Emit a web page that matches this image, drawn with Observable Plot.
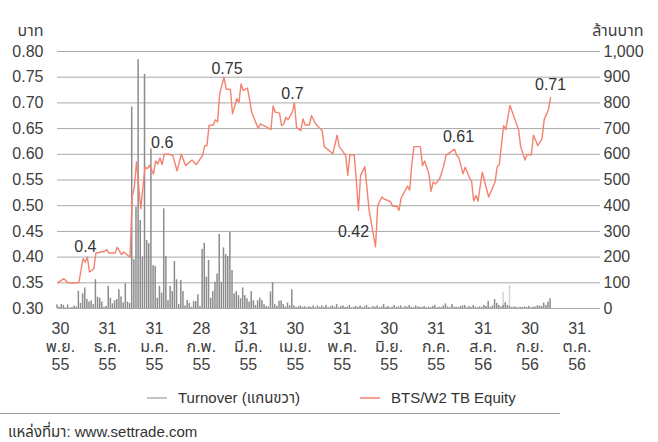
<!DOCTYPE html>
<html>
<head>
<meta charset="utf-8">
<script src="https://cdn.jsdelivr.net/npm/d3@7"></script>
<script src="https://cdn.jsdelivr.net/npm/@observablehq/plot@0.6"></script>
<style>
  body { margin: 0; background: #fff; }
  #chart { position: relative; width: 658px; height: 442px; font-family: "Liberation Sans", "Noto Sans Thai", "Noto Sans", sans-serif; color: #404040; }
  #chart svg { position: absolute; left: 0; top: 0; }
  .key { position: absolute; font-size: 15px; line-height: 18px; white-space: nowrap; color: #333; }
  .swatch { position: absolute; height: 2px; width: 20px; }
</style>
</head>
<body>
<div id="chart">
  <span class="swatch" style="left:147px; top:397px; background:#c4c4c4"></span>
  <span class="key" style="left:178px; top:389px">Turnover (แกนขวา)</span>
  <span class="swatch" style="left:360px; top:397px; background:#f6a090"></span>
  <span class="key" style="left:391px; top:389px">BTS/W2 TB Equity</span>
  <span style="position:absolute; left:0; top:413px; width:560px; height:1px; background:#9e9e9e"></span>
  <span class="key" style="left:8px; top:423px">แหล่งที่มา: www.settrade.com</span>
</div>
<script>
// Trading-day index of each price reading (day 0 = 30 Nov 2012)
const priceDays = [
  0, 3, 5, 10, 11, 12, 13, 14, 15, 17, 18, 22, 23, 24, 27, 28, 30, 31, 33, 34,
  35, 36, 37, 39, 41, 42, 43, 45, 46, 47, 48, 49, 50, 52, 54, 56, 58, 60, 63, 65,
  68, 69, 70, 71, 73, 74, 75, 76, 78, 79, 81, 82, 84, 85, 86, 87, 89, 91, 94, 95,
  98, 100, 101, 102, 104, 105, 106, 107, 108, 110, 111, 112, 114, 115, 116, 118, 119, 121, 123, 124,
  125, 129, 131, 132, 135, 136, 137, 139, 140, 141, 142, 144, 146, 149, 150, 152, 153, 156, 157, 159,
  160, 161, 164, 165, 166, 167, 170, 171, 172, 174, 175, 176, 177, 179, 181, 182, 186, 187, 188, 190,
  191, 193, 194, 195, 196, 197, 199, 202, 205, 206, 207, 209, 210, 212, 216, 217, 219, 220, 222, 223,
  225, 227, 228, 230, 231
];
// BTS/W2 price, baht
const priceValues = [
  0.35, 0.358, 0.35, 0.35, 0.374, 0.397, 0.39, 0.4, 0.371, 0.377, 0.408, 0.411, 0.415, 0.408, 0.408, 0.419, 0.405, 0.41, 0.403, 0.4,
  0.517, 0.536, 0.585, 0.494, 0.575, 0.572, 0.578, 0.562, 0.587, 0.581, 0.593, 0.58, 0.6, 0.6, 0.598, 0.568, 0.6, 0.578, 0.589, 0.58,
  0.598, 0.617, 0.617, 0.656, 0.657, 0.667, 0.663, 0.718, 0.75, 0.727, 0.726, 0.679, 0.708, 0.701, 0.737, 0.724, 0.729, 0.682, 0.65, 0.659,
  0.653, 0.648, 0.694, 0.682, 0.68, 0.656, 0.659, 0.672, 0.667, 0.682, 0.7, 0.652, 0.646, 0.669, 0.657, 0.657, 0.675, 0.659, 0.65, 0.646,
  0.615, 0.601, 0.637, 0.615, 0.598, 0.559, 0.599, 0.599, 0.549, 0.491, 0.559, 0.576, 0.491, 0.42, 0.5, 0.517, 0.513, 0.508, 0.499, 0.499,
  0.491, 0.515, 0.538, 0.53, 0.581, 0.615, 0.615, 0.578, 0.587, 0.562, 0.528, 0.546, 0.542, 0.552, 0.578, 0.598, 0.61, 0.598, 0.594, 0.562,
  0.575, 0.555, 0.548, 0.509, 0.52, 0.509, 0.565, 0.517, 0.546, 0.576, 0.58, 0.656, 0.648, 0.695, 0.648, 0.615, 0.589, 0.599, 0.599, 0.637,
  0.617, 0.63, 0.667, 0.687, 0.71
];
// Daily turnover, million baht (one value per trading day, from day 0)
const turnover = [
  14, 5, 15, 12, 3, 14, 2, 4, 10, 6,
  67, 20, 57, 80, 35, 25, 30, 15, 112, 44,
  40, 25, 5, 8, 86, 40, 18, 30, 35, 73,
  45, 22, 96, 25, 20, 784, 190, 394, 968, 342,
  200, 911, 265, 252, 621, 167, 163, 40, 86, 60,
  388, 202, 30, 86, 66, 183, 112, 15, 109, 66,
  10, 31, 20, 5, 27, 27, 53, 8, 230, 254,
  122, 187, 40, 66, 102, 134, 288, 102, 236, 210,
  202, 297, 148, 57, 66, 50, 38, 80, 50, 38,
  25, 66, 30, 12, 30, 40, 31, 15, 8, 6,
  64, 100, 15, 8, 28, 30, 15, 6, 21, 10,
  73, 10, 4, 6, 10, 5, 7, 3, 7, 4,
  10, 3, 10, 5, 10, 4, 12, 3, 6, 10,
  5, 15, 3, 8, 10, 4, 6, 12, 3, 5,
  8, 4, 10, 3, 6, 12, 4, 2, 8, 5,
  10, 3, 6, 15, 4, 8, 3, 5, 12, 4,
  6, 10, 3, 8, 5, 12, 4, 3, 10, 6,
  5, 4, 8, 3, 5, 4, 8, 12, 3, 5,
  4, 10, 18, 6, 3, 15, 5, 5, 4, 8,
  10, 12, 3, 8, 4, 12, 5, 3, 6, 4,
  12, 8, 28, 5, 10, 35, 20, 12, 6, 12,
  23, 12, 8, 4, 6, 5, 3, 5, 4, 6,
  4, 8, 3, 5, 6, 10, 10, 8, 21, 12,
  25, 38
];
// Two days shown in a paler tone
const paleDays = [209, 212];
const paleTurnover = [64, 89];

// Days whose price is written on the chart
const labelledDays = [14, 50, 78, 111, 149, 186, 231];

// Axis ticks
const priceTicks = [0.30, 0.35, 0.40, 0.45, 0.50, 0.55, 0.60, 0.65, 0.70, 0.75, 0.80];
const turnoverTicks = [0, 100, 200, 300, 400, 500, 600, 700, 800, 900, 1000];
const tickDays = [0, 22, 44, 66, 88, 110, 132, 154, 176, 198, 220, 242];
const tickDates = ["30", "31", "31", "28", "31", "30", "31", "30", "31", "31", "30", "31"];
const tickMonths = ["พ.ย.", "ธ.ค.", "ม.ค.", "ก.พ.", "มี.ค.", "เม.ย.", "พ.ค.", "มิ.ย.", "ก.ค.", "ส.ค.", "ก.ย.", "ต.ค."];
const tickYears = ["55", "55", "55", "55", "55", "55", "55", "55", "55", "56", "56", "56"];

// ---- tables built from the arrays ----
const priceRows = priceDays.map((day, i) => ({day, price: priceValues[i]}));
const turnoverRows = turnover.map((value, day) => ({day, value}));
const paleRows = paleDays.map((day, i) => ({day, value: paleTurnover[i]}));
const labelRows = priceRows.filter(d => labelledDays.includes(d.day));
const tickText = new Map(tickDays.map((d, i) => [d, `${tickDates[i]}\n${tickMonths[i]}\n${tickYears[i]}`]));

const W = 658, H = 385;
const frame = {width: W, height: H, marginTop: 51, marginBottom: 77, marginLeft: 57, marginRight: 58};
const font = "'Liberation Sans', 'Noto Sans Thai', 'Noto Sans', sans-serif";
const baseStyle = {fontFamily: font, fontSize: "16px", color: "#404040", background: "transparent", overflow: "visible"};
const xDomain = [0, 254.4];

// Turnover bars on the right-hand scale
const bars = Plot.plot({
  ...frame,
  style: baseStyle,
  x: {type: "linear", domain: xDomain, axis: null},
  y: {domain: [0, 1000]},
  marks: [
    Plot.gridY({ticks: turnoverTicks, stroke: "#a8a8a8", strokeOpacity: 1}),
    Plot.rectY(paleRows, {x1: d => d.day - 0.35, x2: d => d.day + 0.35, y: "value", fill: "#d4d4d4"}),
    Plot.rectY(turnoverRows, {x1: d => d.day - 0.35, x2: d => d.day + 0.35, y: "value", fill: "#8c8c8c"}),
    Plot.axisY({anchor: "right", ticks: turnoverTicks, tickFormat: d3.format(","), tickSize: 0, tickPadding: 3, fontSize: 16, label: null}),
    Plot.text(["ล้านบาท"], {frameAnchor: "top-right", dx: 43, dy: -27, textAnchor: "end", fontSize: 16, fill: "#404040"})
  ]
});

// Label placement per labelled day
const labelShift = {14: [-2, -10], 50: [-2, -11], 78: [3, -8], 111: [-2, -9], 149: [-22, -15], 186: [4, -12], 231: [0, -13]};

// Price line on the left-hand scale
const line = Plot.plot({
  ...frame,
  style: baseStyle,
  x: {type: "linear", domain: xDomain},
  y: {domain: [0.3, 0.8]},
  marks: [
    Plot.line(priceRows, {x: "day", y: "price", stroke: "#f4826e", strokeWidth: 1.4}),
    ...labelRows.map(r => Plot.text([r], {
      x: "day", y: "price", text: d => String(d.price),
      dx: labelShift[r.day][0], dy: labelShift[r.day][1],
      fontSize: 16, fill: "#333"
    })),
    Plot.axisY({ticks: priceTicks, tickFormat: d3.format(".2f"), tickSize: 0, tickPadding: 14, fontSize: 16, label: null}),
    Plot.axisX({ticks: tickDays, tickFormat: d => tickText.get(d), tickSize: 0, tickPadding: 12, fontSize: 16, lineHeight: 1.15, label: null, dx: 3}),
    Plot.text(["บาท"], {frameAnchor: "top-left", dx: -14, dy: -27, textAnchor: "end", fontSize: 16, fill: "#404040"})
  ]
});

const chart = document.getElementById("chart");
chart.prepend(line);
chart.prepend(bars);
</script>
</body>
</html>
